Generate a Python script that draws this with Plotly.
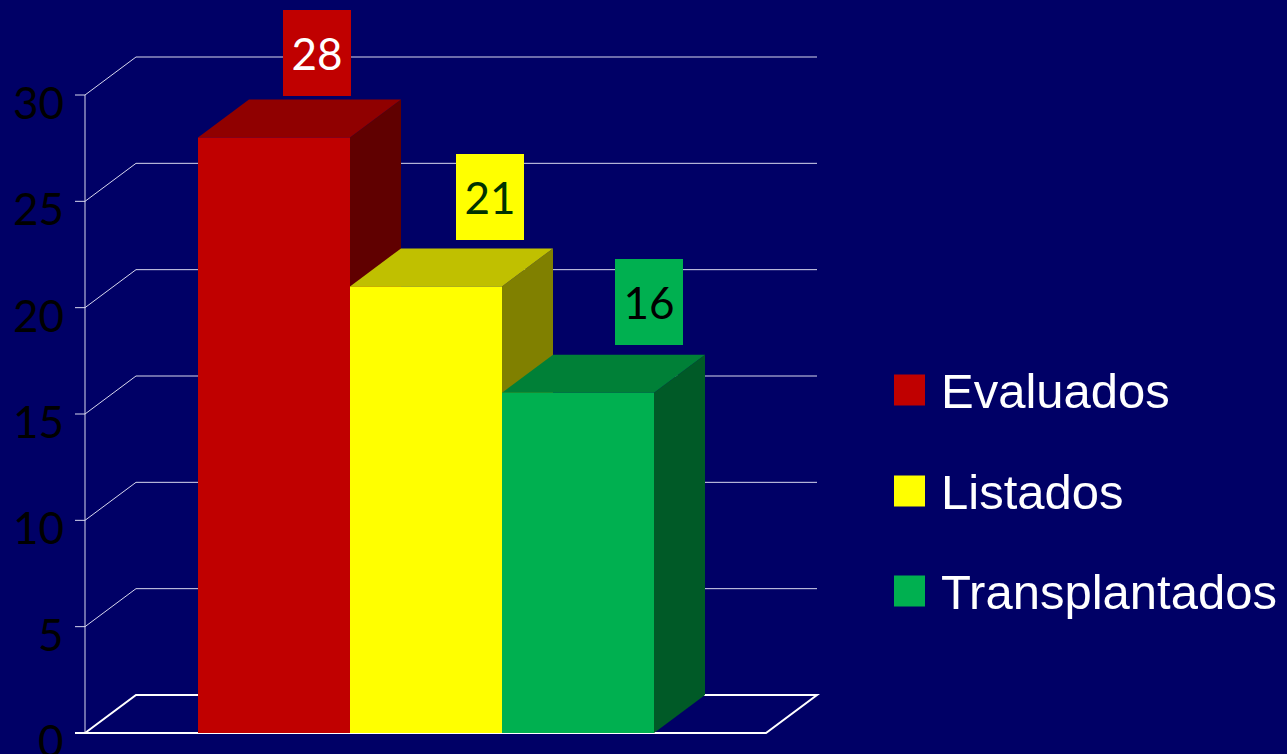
import plotly.graph_objects as go

# ---------------- data ----------------
categories = ["Evaluados", "Listados", "Transplantados"]
values = [28, 21, 16]
y_ticks = [0, 5, 10, 15, 20, 25, 30]
tick_labels = ["0", "5", "10", "15", "20", "25", "30"]

# ---------------- style ----------------
front_colors = ["#C00000", "#FFFF00", "#00B050"]
top_colors = ["#900000", "#C0C000", "#008037"]
side_colors = ["#600000", "#808000", "#005A27"]
label_text_colors = ["#FFFFFF", "#003300", "#000000"]
label_xshift = [-8, 13, 20]
label_yshift = [4, 8, 10]
BG = "#000066"
GRID = "#D8D8EE"

W, H = 1287, 754
PX_X = 152.0          # pixels per bar slot
X0_PX = 198.0         # pixel x of first bar's left edge
Y0_PX = 733.0         # pixel y of value 0
PX_Y = 638.0 / 30.0   # pixels per unit of value
DX = 51.0 / PX_X      # depth offset (x, in axis units)
DY = 38.0 / PX_Y      # depth offset (y, in axis units)
AXIS_X = (85.0 - X0_PX) / PX_X
FLOOR_END = (766.0 - X0_PX) / PX_X
TICK_LEN = 10.0 / PX_X
YMAX = max(y_ticks)

fig = go.Figure()

# gridlines / walls / floor (below traces)
shapes = []
line_grid = dict(color=GRID, width=1)
for t in y_ticks:
    if t == 0:
        continue
    shapes.append(dict(type="path", layer="below", line=line_grid,
                       path=f"M {AXIS_X - TICK_LEN} {t} L {AXIS_X} {t} L {AXIS_X + DX} {t + DY} L {FLOOR_END + DX} {t + DY}"))
shapes.append(dict(type="line", layer="below", line=line_grid,
                   x0=AXIS_X, x1=AXIS_X, y0=0, y1=YMAX))
shapes.append(dict(type="path", layer="below", line=dict(color="#FFFFFF", width=2),
                   path=f"M {AXIS_X - TICK_LEN} 0 L {FLOOR_END} 0 L {FLOOR_END + DX} {DY} L {AXIS_X + DX} {DY} L {AXIS_X} 0"))

# 3D bars drawn as faces, left to right
for i, (cat, v) in enumerate(zip(categories, values)):
    x0, x1 = i, i + 1
    # side face
    fig.add_trace(go.Scatter(
        x=[x1, x1 + DX, x1 + DX, x1, x1], y=[0, DY, v + DY, v, 0],
        fill="toself", fillcolor=side_colors[i], mode="lines",
        line=dict(width=0, color=side_colors[i]), hoverinfo="skip", showlegend=False))
    # top face
    fig.add_trace(go.Scatter(
        x=[x0, x0 + DX, x1 + DX, x1, x0], y=[v, v + DY, v + DY, v, v],
        fill="toself", fillcolor=top_colors[i], mode="lines",
        line=dict(width=0, color=top_colors[i]), hoverinfo="skip", showlegend=False))
    # front face
    fig.add_trace(go.Scatter(
        x=[x0, x1, x1, x0, x0], y=[0, 0, v, v, 0],
        fill="toself", fillcolor=front_colors[i], mode="lines",
        line=dict(width=0, color=front_colors[i]), name=cat,
        hoverinfo="name+y", showlegend=False))

annotations = []
# value labels
for i, v in enumerate(values):
    annotations.append(dict(
        x=i + 0.5 + DX, y=v + DY, xref="x", yref="y", xanchor="center", yanchor="bottom",
        text=str(v), showarrow=False, width=68, height=86, borderpad=0, borderwidth=0,
        bgcolor=front_colors[i], xshift=label_xshift[i], yshift=label_yshift[i],
        font=dict(family="Lato", size=44, color=label_text_colors[i])))
# axis tick labels
for t, lab in zip(y_ticks, tick_labels):
    annotations.append(dict(
        x=AXIS_X, y=t, xref="x", yref="y", xanchor="right", yanchor="middle",
        text=lab, showarrow=False, xshift=-19, yshift=-7,
        font=dict(family="Lato", size=44, color="#000000")))

# legend (manual)
legend_y_px = [390, 491, 591]
SQ = 31
for i, cat in enumerate(categories):
    cy = legend_y_px[i]
    shapes.append(dict(type="rect", xref="paper", yref="paper",
                       x0=894 / W, x1=(894 + SQ) / W,
                       y0=1 - (cy + SQ / 2) / H, y1=1 - (cy - SQ / 2) / H,
                       fillcolor=front_colors[i], line=dict(width=0)))
    annotations.append(dict(
        x=939 / W, y=1 - (cy + 1) / H, xref="paper", yref="paper",
        xanchor="left", yanchor="middle", text=cat, showarrow=False,
        font=dict(family="Liberation Sans", size=49, color="#FFFFFF")))

fig.update_layout(
    width=W, height=H, autosize=False,
    margin=dict(l=0, r=0, t=0, b=0),
    paper_bgcolor=BG, plot_bgcolor=BG,
    xaxis=dict(range=[-X0_PX / PX_X, (W - X0_PX) / PX_X], visible=False, fixedrange=True),
    yaxis=dict(range=[(Y0_PX - H) / PX_Y, Y0_PX / PX_Y], visible=False, fixedrange=True),
    shapes=shapes, annotations=annotations, showlegend=False,
)

fig.write_html("out.html", config={"displayModeBar": False},
               post_script="document.body.style.margin='0';document.body.style.background='#000066';document.body.style.overflow='hidden';")
